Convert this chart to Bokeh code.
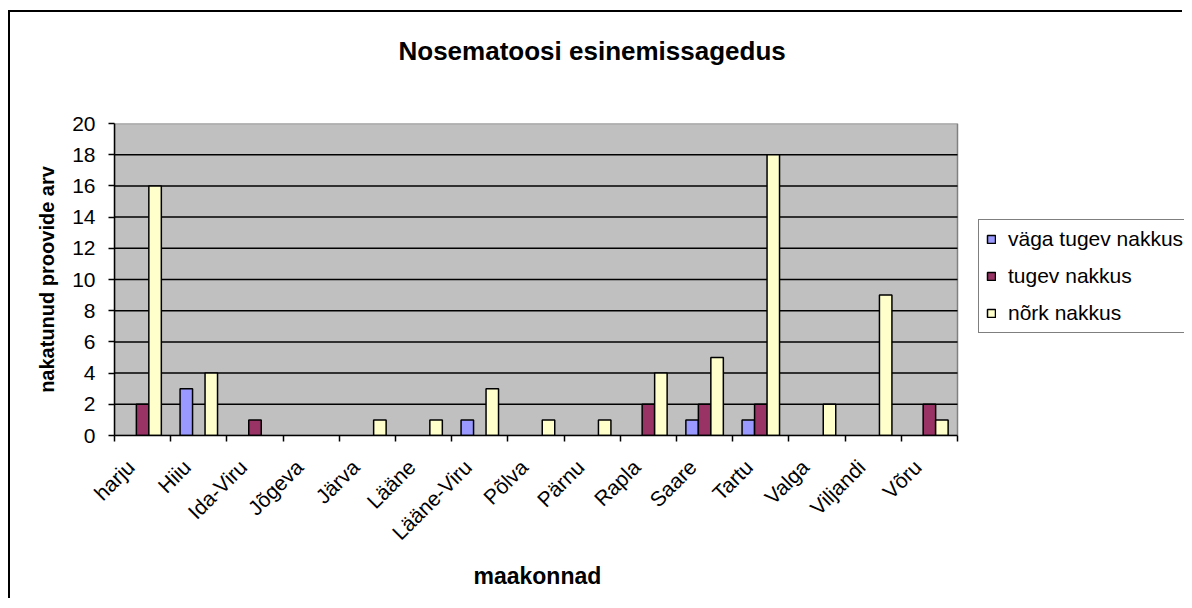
import numpy as np
from bokeh.plotting import figure
from bokeh.models import Range1d, FixedTicker, ColumnDataSource, Title
from bokeh.embed import file_html
from bokeh.resources import INLINE

categories = ["harju", "Hiiu", "Ida-Viru", "Jõgeva", "Järva", "Lääne", "Lääne-Viru",
              "Põlva", "Pärnu", "Rapla", "Saare", "Tartu", "Valga", "Viljandi", "Võru"]
vaga_tugev = [0, 3, 0, 0, 0, 0, 1, 0, 0, 0, 1, 1, 0, 0, 0]
tugev = [2, 0, 1, 0, 0, 0, 0, 0, 0, 2, 2, 2, 0, 0, 2]
nork = [16, 4, 0, 0, 1, 1, 3, 1, 1, 4, 5, 18, 2, 9, 1]
series_names = ["väga tugev nakkus", "tugev nakkus", "nõrk nakkus"]
series_colors = ["#9999FF", "#993366", "#FFFFCC"]
y_ticks = list(range(0, 21, 2))

FONT = "Liberation Sans"
W, H = 1174, 588
n = len(categories)

# plot area spans n categories over 843 px; frame continues to the right edge
PLOT_PX = 843.0
FRAME_PX = W - 104
x_end = n * FRAME_PX / PLOT_PX

p = figure(width=W, height=H, output_backend="svg", toolbar_location=None,
           x_range=Range1d(0, x_end), y_range=Range1d(0, 20),
           min_border_left=104, min_border_right=0, min_border_top=111,
           min_border_bottom=165)
p.styles = {"border-left": "2px solid black", "border-top": "2px solid black",
            "margin-left": "8px", "margin-top": "10px"}

p.background_fill_color = "white"
p.border_fill_color = "white"
p.outline_line_color = None

# plot area (gray) and gridlines
p.quad(left=0, right=n, bottom=y_ticks[0], top=y_ticks[-1], fill_color="#C0C0C0",
       line_color="#808080", line_width=1.5)
p.segment(x0=0, x1=n, y0=y_ticks[1:-1], y1=y_ticks[1:-1], line_color="black",
          line_width=1.5)

# titles: spacer next to the plot, then the main title above it
p.title = None
spacer = Title(text=" ", text_font=FONT, text_font_size="1px", standoff=55)
p.add_layout(spacer, "above")
main_title = Title(text="Nosematoosi esinemissagedus", text_font=FONT,
                   text_font_size="26px", text_font_style="bold", text_color="black",
                   align="left", offset=284, standoff=0)
p.add_layout(main_title, "above")

centers = np.arange(n) + 0.5
bar_w = 1.0 / 4.5
offsets = [-bar_w, 0.0, bar_w]

for vals, name, col, off in zip([vaga_tugev, tugev, nork], series_names, series_colors, offsets):
    v = np.array(vals, dtype=float)
    mask = v > 0
    src = ColumnDataSource(dict(x=(centers + off)[mask], top=v[mask]))
    p.vbar(x="x", top="top", bottom=0, width=bar_w, source=src,
           fill_color=col, line_color="black", line_width=1.5, legend_label=name)

# x axis: tick marks at category boundaries, slanted names near the centres
label_pos = centers - 0.21
xax = p.xaxis[0]
xax.bounds = (0, n)
xax.ticker = FixedTicker(ticks=list(label_pos), minor_ticks=list(range(n + 1)))
xax.major_label_overrides = {float(c): lab for c, lab in zip(label_pos, categories)}
xax.major_label_orientation = np.pi / 4
xax.major_tick_line_color = None
xax.major_tick_out = 0
xax.major_tick_in = 0
xax.minor_tick_line_color = "black"
xax.minor_tick_line_width = 1.5
xax.minor_tick_in = 0
xax.minor_tick_out = 6
xax.axis_line_color = "black"
xax.axis_line_width = 1.5
xax.major_label_text_font = FONT
xax.major_label_text_font_size = "21px"
xax.major_label_text_color = "black"
xax.major_label_standoff = 22

# x axis title, centred under the plot area
xt = Title(text="maakonnad", align="left", offset=359, text_font=FONT,
           text_font_size="23px", text_font_style="bold", text_color="black",
           standoff=10)
p.add_layout(xt, "below")

# y axis
yax = p.yaxis[0]
yax.ticker = FixedTicker(ticks=y_ticks)
yax.minor_tick_line_color = None
yax.major_tick_in = 0
yax.major_tick_out = 6
yax.major_tick_line_color = "black"
yax.major_tick_line_width = 1.5
yax.axis_line_color = "black"
yax.axis_line_width = 1.5
yax.major_label_text_font = FONT
yax.major_label_text_font_size = "21px"
yax.major_label_text_color = "black"
yax.major_label_standoff = 13
yax.axis_label = "nakatunud proovide arv"
yax.axis_label_text_font = FONT
yax.axis_label_text_font_size = "20px"
yax.axis_label_text_font_style = "bold"
yax.axis_label_text_color = "black"
yax.axis_label_standoff = 11

p.xgrid.grid_line_color = None
p.ygrid.grid_line_color = None

# legend (inside the wide frame, right of the plot area)
lg = p.legend[0]
lg.location = (864, 102)
lg.border_line_color = "black"
lg.border_line_width = 1.5
lg.background_fill_color = "white"
lg.background_fill_alpha = 1
lg.label_text_font = FONT
lg.label_text_font_size = "21px"
lg.label_text_color = "black"
lg.glyph_width = 10
lg.glyph_height = 10
lg.label_standoff = 12
lg.label_height = 20
lg.label_width = 200
lg.spacing = 13
lg.padding = 7
lg.margin = 0

open("out.html", "w").write(file_html(p, INLINE))
